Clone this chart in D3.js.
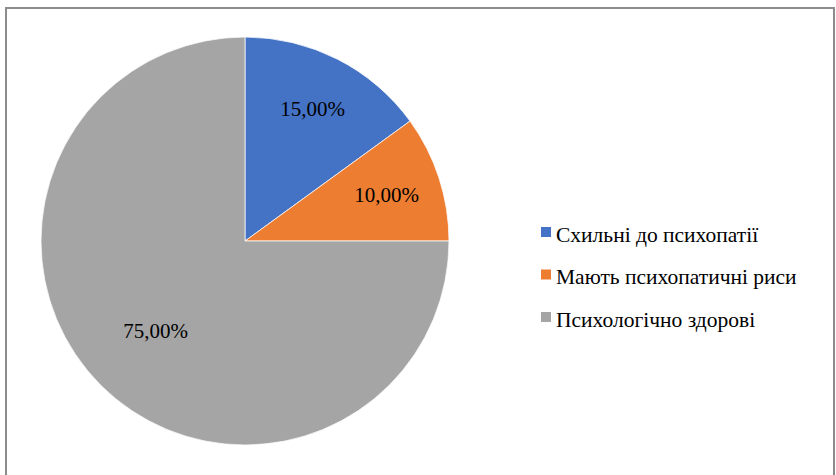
<!DOCTYPE html>
<html>
<head>
<meta charset="utf-8">
<script src="https://cdn.jsdelivr.net/npm/d3@7"></script>
<style>
  html, body { margin: 0; padding: 0; background: #fff; }
  svg { display: block; }
</style>
</head>
<body>
<svg id="chart" width="836" height="475"></svg>
<script>
// Share of respondents by psychological state
const categories = ["Схильні до психопатії", "Мають психопатичні риси", "Психологічно здорові"];
const shares = [15, 10, 75];
const colors = ["#4472C4", "#ED7D31", "#A5A5A5"];

const FONT = '"Liberation Serif"';
const svg = d3.select("#chart");

// outer frame
svg.append("rect")
  .attr("x", 6).attr("y", 8)
  .attr("width", 828).attr("height", 475)
  .attr("fill", "#fff")
  .attr("stroke", "#8c8c8c")
  .attr("stroke-width", 2);

const cx = 245, cy = 241, R = 204;
const g = svg.append("g").attr("transform", `translate(${cx},${cy})`);

const pie = d3.pie().value(d => d).sort(null);
const arcs = pie(shares);
const arc = d3.arc().innerRadius(0).outerRadius(R);

g.selectAll("path.slice")
  .data(arcs)
  .join("path")
  .attr("class", "slice")
  .attr("d", arc)
  .attr("fill", (d, i) => colors[i])
  .attr("stroke", "#fff")
  .attr("stroke-width", 0.75);

const fmt = v => v.toFixed(2).replace(".", ",") + "%";

// labels sit closer to the centre for large slices
g.selectAll("text.lbl")
  .data(arcs)
  .join("text")
  .attr("class", "lbl")
  .attr("transform", d => {
    const a = (d.startAngle + d.endAngle) / 2;
    const r = (d.endAngle - d.startAngle) > Math.PI ? R * 0.62 : R * 0.73;
    return `translate(${r * Math.sin(a)},${-r * Math.cos(a)})`;
  })
  .attr("text-anchor", "middle")
  .attr("dy", "0.35em")
  .style("font-family", FONT)
  .style("font-size", "21px")
  .attr("fill", "#000")
  .text(d => fmt(d.data));

// legend
const legend = svg.append("g").attr("transform", "translate(541,0)");
const rowY = d3.scalePoint().domain(categories).range([232, 317]);
const rows = legend.selectAll("g.row")
  .data(categories)
  .join("g")
  .attr("class", "row")
  .attr("transform", d => `translate(0,${rowY(d)})`);
rows.append("rect")
  .attr("x", 0).attr("y", -5)
  .attr("width", 10).attr("height", 10)
  .attr("fill", (d, i) => colors[i]);
rows.append("text")
  .attr("x", 15).attr("y", 2)
  .attr("dy", "0.35em")
  .style("font-family", FONT)
  .style("font-size", "21.5px")
  .attr("fill", "#000")
  .text(d => d);
</script>
</body>
</html>
